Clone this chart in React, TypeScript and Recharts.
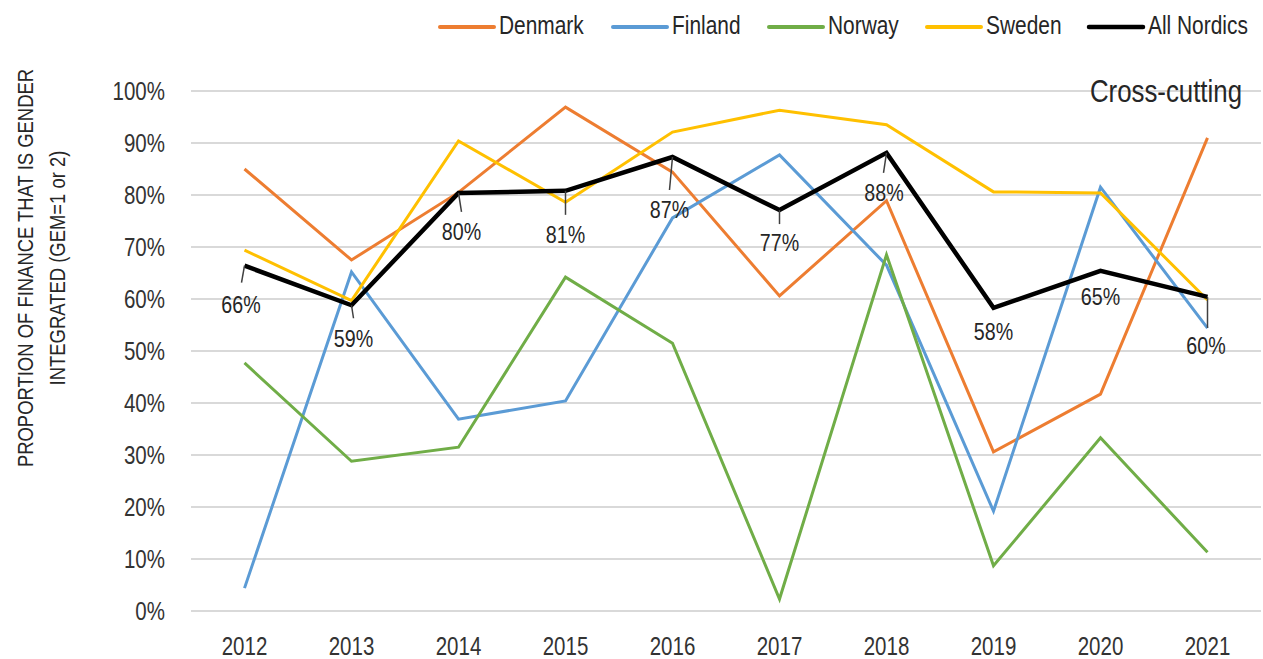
import React from 'react';
import { LineChart, Line, XAxis, YAxis, CartesianGrid, LabelList } from 'recharts';

const years = ['2012', '2013', '2014', '2015', '2016', '2017', '2018', '2019', '2020', '2021'];
const denmark = [85.0, 67.5, 80.5, 96.9, 84.4, 60.6, 78.9, 30.6, 41.7, 91.0];
const finland = [4.4, 65.2, 36.9, 40.4, 75.6, 87.7, 66.5, 19.2, 81.5, 54.4];
const norway = [47.7, 28.8, 31.5, 64.2, 51.5, 2.3, 68.5, 8.7, 33.3, 11.3];
const sweden = [69.4, 59.7, 90.4, 78.6, 92.1, 96.3, 93.5, 80.6, 80.4, 59.8];
const allNordics = [66.4, 58.8, 80.4, 80.8, 87.3, 77.1, 88.1, 58.3, 65.4, 60.4];
const yTicks = [0, 10, 20, 30, 40, 50, 60, 70, 80, 90, 100];

// where each All Nordics data label sits relative to its point
const labelDy = [39, 33, 39, 44, 52, 32, 40, 24, 26, 49];
const labelDx = [-3.5, 2, 3, 0, -3, 0, -2.5, 0, 0, -1.5];
const leaderLen = [17, 13, 19, 24, 33, 14, 20, 0, 0, 31];
const leaderDx = [-3, 2, 3, 0, -3, 0, -3, 0, 0, 0];

const series = [
  { key: 'Denmark', values: denmark, color: '#ED7D31', width: 3 },
  { key: 'Finland', values: finland, color: '#5B9BD5', width: 3 },
  { key: 'Norway', values: norway, color: '#70AD47', width: 3 },
  { key: 'Sweden', values: sweden, color: '#FFC000', width: 3 },
  { key: 'All Nordics', values: allNordics, color: '#000000', width: 4.5 },
];
const legendX = [440, 613, 769, 927, 1089];

const data = years.map((year, i) => {
  const row: any = { year };
  series.forEach((s) => (row[s.key] = s.values[i]));
  return row;
});

const FONT = "'Liberation Sans', Arial, sans-serif";
const TEXT = '#262626';

// Arial squeezed to look like Arial Narrow
const Narrow = ({ x, y, size, anchor = 'start', rotate = 0, fill = TEXT, children }: any) => (
  <text
    transform={`translate(${x} ${y}) rotate(${rotate}) scale(0.82 1)`}
    textAnchor={anchor}
    fontSize={size}
    fontFamily={FONT}
    fill={fill}
  >
    {children}
  </text>
);

const XTick = (props: any) => (
  <Narrow x={props.x} y={655} size={25} anchor="middle" fill="#333">
    {props.payload.value}
  </Narrow>
);

const YTick = (props: any) => (
  <Narrow x={165} y={props.y + 9} size={25} anchor="end" fill="#333">
    {props.payload.value}%
  </Narrow>
);

const NordicLabel = (props: any) => {
  const { x, y, value, index } = props;
  const len = leaderLen[index];
  return (
    <g>
      {len > 0 && (
        <line x1={x} y1={y} x2={x + leaderDx[index]} y2={y + len} stroke="#404040" strokeWidth={1.5} />
      )}
      <Narrow x={x + labelDx[index]} y={y + labelDy[index] + 8.5} size={24} anchor="middle">
        {Math.round(value)}%
      </Narrow>
    </g>
  );
};

export default function App() {
  return (
    <div style={{ position: 'absolute', left: 0, top: 0, width: 1263, height: 659, background: '#fff' }}>
      <LineChart width={1263} height={659} data={data} margin={{ top: 91, right: 2, bottom: 18, left: 0 }}>
        <CartesianGrid vertical={false} stroke="#d9d9d9" strokeWidth={2} />
        <XAxis
          dataKey="year"
          height={30}
          axisLine={false}
          tickLine={false}
          padding={{ left: 53.5, right: 53.5 }}
          tick={XTick}
          interval={0}
        />
        <YAxis width={191} domain={[0, 100]} ticks={yTicks} axisLine={false} tickLine={false} tick={YTick} />
        {series.map((s) => (
          <Line
            key={s.key}
            dataKey={s.key}
            stroke={s.color}
            strokeWidth={s.width}
            dot={false}
            activeDot={false}
            isAnimationActive={false}
          >
            {s.key === 'All Nordics' && <LabelList dataKey={s.key} content={NordicLabel} />}
          </Line>
        ))}
      </LineChart>
      <svg width={1263} height={659} style={{ position: 'absolute', left: 0, top: 0, pointerEvents: 'none' }}>
        {series.map((s, i) => (
          <g key={s.key}>
            <line x1={legendX[i]} x2={legendX[i] + 54} y1={27} y2={27} stroke={s.color} strokeWidth={s.key === 'All Nordics' ? 4.5 : 4} strokeLinecap="round" />
            <Narrow x={legendX[i] + 59} y={34} size={25.5}>
              {s.key}
            </Narrow>
          </g>
        ))}
        <Narrow x={33} y={268} size={22.5} anchor="middle" rotate={-90}>
          PROPORTION OF FINANCE THAT IS GENDER
        </Narrow>
        <Narrow x={65} y={268} size={22.5} anchor="middle" rotate={-90}>
          INTEGRATED (GEM=1 or 2)
        </Narrow>
        <Narrow x={1242} y={102} size={31.5} anchor="end">
          Cross-cutting
        </Narrow>
      </svg>
    </div>
  );
}
